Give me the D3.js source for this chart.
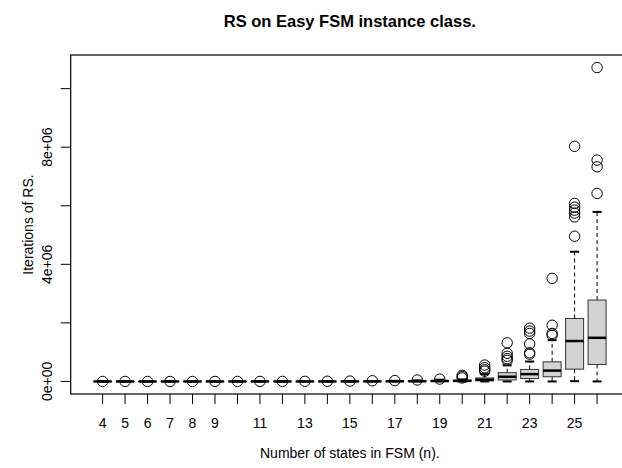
<!DOCTYPE html>
<html>
<head>
<meta charset="utf-8">
<script src="https://cdn.jsdelivr.net/npm/d3@7"></script>
<style>
  html, body { margin: 0; padding: 0; background: #fff; }
  svg { display: block; }
  text { font-family: "Liberation Sans", Arial, Helvetica, sans-serif; fill: #000; }
</style>
</head>
<body>
<svg id="chart" width="622" height="468"></svg>
<script>
// ---- data (iterations of RS per FSM size) ----
const categories = [4,5,6,7,8,9,10,11,12,13,14,15,16,17,18,19,20,21,22,23,24,25,26];
const lowerWhisker = [0,0,0,0,0,0,0,0,0,0,0,0,0,0,0,0,0,0,0,0,0,10000,0];
const q1 = [2,3,5,8,12,20,35,60,100,180,320,600,1100,2000,3800,7000,10000,20000,50000,100000,160000,420000,580000];
const medians = [4,6,10,16,25,40,70,120,210,380,700,1300,2400,4500,8000,15000,20000,60000,160000,250000,370000,1380000,1490000];
const q3 = [8,12,20,32,50,80,140,250,430,800,1500,2700,5000,9000,17000,30000,40000,120000,300000,410000,670000,2150000,2780000];
const upperWhisker = [18,28,45,70,110,180,320,560,980,1800,3300,6000,11000,20000,38000,60000,70000,250000,550000,680000,1410000,4430000,5790000];
const outliers = [
  [40], [60], [90], [150], [240], [400], [700], [1200], [2100], [3900], [7000], [13000], [24000],
  [30000], [50000], [80000],
  [210000, 170000, 120000],
  [560000, 470000, 400000, 350000],
  [1320000, 960000, 860000, 780000, 720000],
  [1820000, 1720000, 1640000, 1280000, 980000, 930000],
  [3520000, 1920000, 1640000, 1580000],
  [8030000, 6080000, 5950000, 5850000, 5750000, 5620000, 4960000],
  [10720000, 7560000, 7330000, 6420000]
];
const yTicks = [0, 2e6, 4e6, 6e6, 8e6, 10e6];
const yTickLabels = ["0e+00", "", "4e+06", "", "8e+06", ""];
const xTickLabels = ["4","5","6","7","8","9","","11","","13","","15","","17","","19","","21","","23","","25",""];
const title = "RS on Easy FSM instance class.";
const xTitle = "Number of states in FSM (n).";
const yTitle = "Iterations of RS.";

// ---- layout ----
const W = 622, H = 468;
const plot = { left: 70.7, right: 629, top: 55, bottom: 394 };
const svg = d3.select("#chart");

const nCat = categories.length;
const idx = categories.map((d, i) => i + 1);
const xExt = 0.04 * nCat;
const x = d3.scaleLinear().domain([0.5 - xExt, nCat + 0.5 + xExt]).range([plot.left, plot.right]);

const allVals = outliers.flat().concat(upperWhisker, lowerWhisker);
const yMin = d3.min(allVals), yMax = d3.max(allVals);
const yPad = 0.04 * (yMax - yMin);
const y = d3.scaleLinear().domain([yMin - yPad, yMax + yPad]).range([plot.bottom, plot.top]);

const boxW = 18, capW = 9;

// boxes
const g = svg.append("g");
categories.forEach((c, i) => {
  const cx = x(idx[i]);
  // whiskers (dashed)
  g.append("line").attr("x1", cx).attr("x2", cx)
    .attr("y1", y(q3[i])).attr("y2", y(upperWhisker[i]))
    .attr("stroke", "#000").attr("stroke-width", 1).attr("stroke-dasharray", "4,3");
  g.append("line").attr("x1", cx).attr("x2", cx)
    .attr("y1", y(q1[i])).attr("y2", y(lowerWhisker[i]))
    .attr("stroke", "#000").attr("stroke-width", 1).attr("stroke-dasharray", "4,3");
  // caps
  [upperWhisker[i], lowerWhisker[i]].forEach(v => {
    g.append("line").attr("x1", cx - capW / 2).attr("x2", cx + capW / 2)
      .attr("y1", y(v)).attr("y2", y(v))
      .attr("stroke", "#000").attr("stroke-width", 2);
  });
  // box
  g.append("rect").attr("x", cx - boxW / 2).attr("width", boxW)
    .attr("y", y(q3[i])).attr("height", Math.max(0, y(q1[i]) - y(q3[i])))
    .attr("fill", "#d3d3d3").attr("stroke", "#333").attr("stroke-width", 1);
  // median
  g.append("line").attr("x1", cx - boxW / 2).attr("x2", cx + boxW / 2)
    .attr("y1", y(medians[i])).attr("y2", y(medians[i]))
    .attr("stroke", "#000").attr("stroke-width", 2.5);
  // outliers
  outliers[i].forEach(v => {
    g.append("circle").attr("cx", cx).attr("cy", y(v)).attr("r", 5.2)
      .attr("fill", "none").attr("stroke", "#000").attr("stroke-width", 1);
  });
});

// frame
svg.append("rect").attr("x", plot.left).attr("y", plot.top)
  .attr("width", plot.right - plot.left).attr("height", plot.bottom - plot.top)
  .attr("fill", "none").attr("stroke", "#000").attr("stroke-width", 1.2);

// x axis ticks
const xAxis = svg.append("g");
idx.forEach((p, i) => {
  xAxis.append("line").attr("x1", x(p)).attr("x2", x(p))
    .attr("y1", plot.bottom).attr("y2", plot.bottom + 10)
    .attr("stroke", "#000").attr("stroke-width", 1);
  if (xTickLabels[i]) {
    xAxis.append("text").attr("x", x(p)).attr("y", 428)
      .attr("text-anchor", "middle").attr("font-size", 14).text(xTickLabels[i]);
  }
});

// y axis ticks
const yAxis = svg.append("g");
yTicks.forEach((t, i) => {
  yAxis.append("line").attr("x1", plot.left - 10).attr("x2", plot.left)
    .attr("y1", y(t)).attr("y2", y(t)).attr("stroke", "#000").attr("stroke-width", 1);
  if (yTickLabels[i]) {
    yAxis.append("text")
      .attr("transform", `translate(52,${y(t)}) rotate(-90)`)
      .attr("text-anchor", "middle").attr("font-size", 14).text(yTickLabels[i]);
  }
});

// titles
svg.append("text").attr("x", (plot.left + plot.right) / 2).attr("y", 27)
  .attr("text-anchor", "middle").attr("font-size", 16.5).attr("font-weight", "bold").text(title);
svg.append("text").attr("x", (plot.left + plot.right) / 2).attr("y", 458)
  .attr("text-anchor", "middle").attr("font-size", 14).text(xTitle);
svg.append("text")
  .attr("transform", `translate(33,${(plot.top + plot.bottom) / 2}) rotate(-90)`)
  .attr("text-anchor", "middle").attr("font-size", 14).text(yTitle);
</script>
</body>
</html>
